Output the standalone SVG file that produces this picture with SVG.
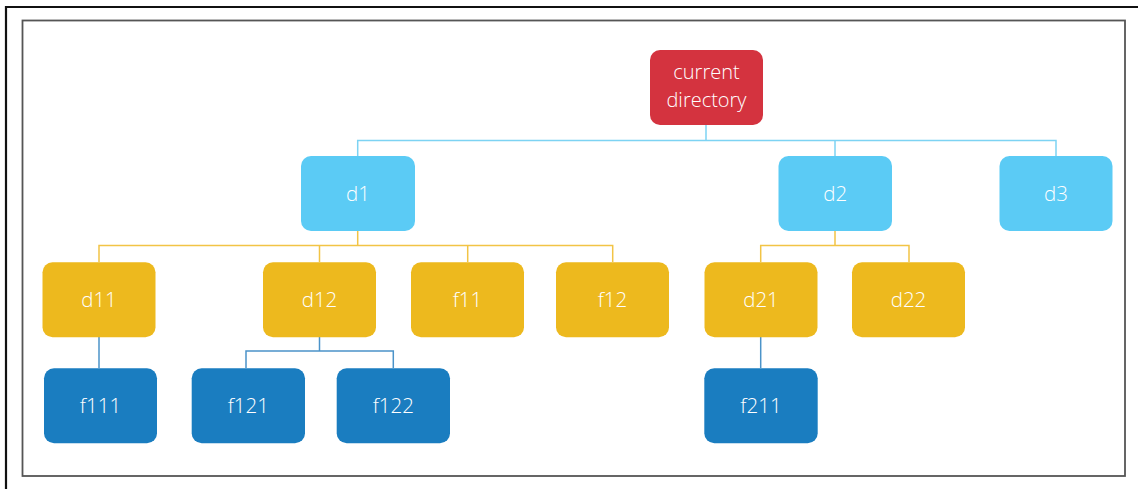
<svg xmlns="http://www.w3.org/2000/svg" width="1138" height="489" viewBox="0 0 1138 489">
  <style>
    .node rect { stroke: none; }
    .root rect { fill: #D4333F; }
    .dir1 rect { fill: #5BCBF5; }
    .dir2 rect { fill: #EDB91E; }
    .file rect { fill: #1A7DC0; }
    .node text { font-family: "Open Sans", "Liberation Sans", sans-serif; font-size: 20.5px; font-weight: 300; fill: #FFFFFF; text-anchor: middle; }
    .root text { font-size: 20px; }
    .c-light { stroke: #7DD3F3; }
    .c-yellow { stroke: #F2C445; }
    .c-dark { stroke: #4B93C9; }
    #connectors path { fill: none; stroke-width: 1.5; }
  </style>

  <!-- page frame -->
  <rect width="1138" height="489" fill="#FFFFFF"/>
  <path d="M6,489 V7 H1138" fill="none" stroke="#111111" stroke-width="2.2"/>
  <rect x="22.5" y="20.5" width="1102.5" height="455.5" fill="none" stroke="#555555" stroke-width="1.8"/>

  <g id="connectors">
    <!-- current directory to d1, d2, d3 -->
    <path class="c-light" d="M706,125 V140.5 M357.7,156 V140.5 H1056 V156 M835,140.5 V156"/>
    <!-- d1 to its children -->
    <path class="c-yellow" d="M357.7,231 V245.5 M99,262 V245.5 H612.7 V262 M319.5,245.5 V262 M467.7,245.5 V262"/>
    <!-- d2 to its children -->
    <path class="c-yellow" d="M835,231 V245.5 M760.7,262 V245.5 H909 V262"/>
    <!-- d11 to f111 -->
    <path class="c-dark" d="M99,337 V368"/>
    <!-- d12 to f121, f122 -->
    <path class="c-dark" d="M319.5,337 V351 M246,368 V351 H393.3 V368"/>
    <!-- d21 to f211 -->
    <path class="c-dark" d="M760.7,337 V368"/>
  </g>

  <g id="current-directory" class="node root">
    <rect x="650" y="50" width="113" height="75" rx="10"/>
    <text x="706.5" y="78.5">current</text>
    <text x="706.5" y="106.5">directory</text>
  </g>

  <g id="d1" class="node dir1">
    <rect x="301" y="156" width="114" height="75" rx="10"/>
    <text x="358" y="200.5">d1</text>
  </g>
  <g id="d2" class="node dir1">
    <rect x="778.5" y="156" width="113.5" height="75" rx="10"/>
    <text x="835.2" y="200.5">d2</text>
  </g>
  <g id="d3" class="node dir1">
    <rect x="999.5" y="156" width="113" height="75" rx="10"/>
    <text x="1056" y="200.5">d3</text>
  </g>

  <g id="d11" class="node dir2">
    <rect x="42.5" y="262.3" width="113" height="75" rx="10"/>
    <text x="99" y="306.5">d11</text>
  </g>
  <g id="d12" class="node dir2">
    <rect x="263" y="262.3" width="113" height="75" rx="10"/>
    <text x="319.5" y="306.5">d12</text>
  </g>
  <g id="f11" class="node dir2">
    <rect x="411" y="262.3" width="113" height="75" rx="10"/>
    <text x="467.5" y="306.5">f11</text>
  </g>
  <g id="f12" class="node dir2">
    <rect x="556" y="262.3" width="113" height="75" rx="10"/>
    <text x="612.5" y="306.5">f12</text>
  </g>
  <g id="d21" class="node dir2">
    <rect x="704.5" y="262.3" width="113" height="75" rx="10"/>
    <text x="761" y="306.5">d21</text>
  </g>
  <g id="d22" class="node dir2">
    <rect x="852" y="262.3" width="113" height="75" rx="10"/>
    <text x="908.5" y="306.5">d22</text>
  </g>

  <g id="f111" class="node file">
    <rect x="44" y="368.3" width="113" height="75" rx="10"/>
    <text x="100.5" y="413">f111</text>
  </g>
  <g id="f121" class="node file">
    <rect x="191.7" y="368.3" width="113.3" height="75" rx="10"/>
    <text x="248.3" y="413">f121</text>
  </g>
  <g id="f122" class="node file">
    <rect x="336.7" y="368.3" width="113.3" height="75" rx="10"/>
    <text x="393.3" y="413">f122</text>
  </g>
  <g id="f211" class="node file">
    <rect x="704.3" y="368.3" width="113.4" height="75" rx="10"/>
    <text x="761" y="413">f211</text>
  </g>
</svg>
